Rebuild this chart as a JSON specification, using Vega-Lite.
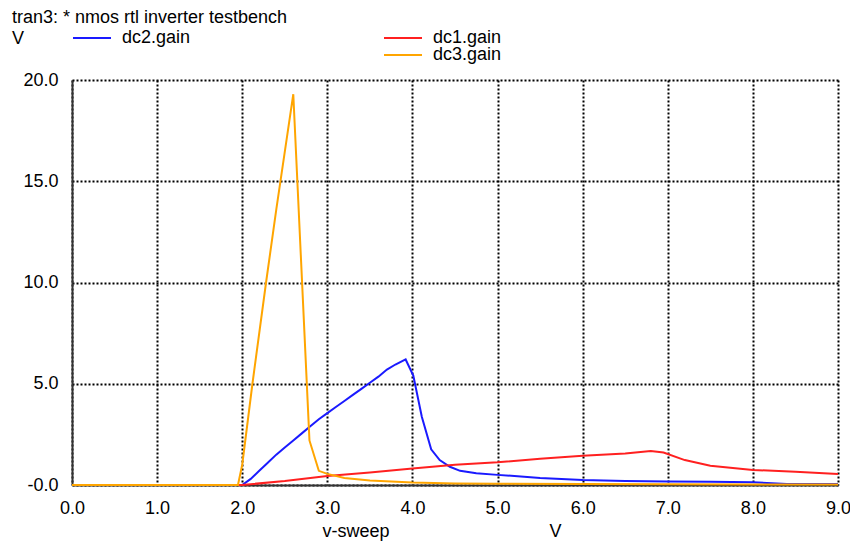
{
  "$schema": "https://vega.github.io/schema/vega-lite/v6.json",
  "width": 766,
  "height": 405,
  "autosize": {"type": "none"},
  "padding": {"left": 72, "top": 80, "right": 12, "bottom": 57},
  "background": "white",
  "title": {
    "text": "tran3: * nmos rtl inverter testbench",
    "subtitle": "V",
    "anchor": "start",
    "frame": "group",
    "dx": -60,
    "dy": 30,
    "offset": 0,
    "font": "Liberation Sans",
    "fontSize": 18,
    "fontWeight": "normal",
    "color": "black",
    "subtitleFont": "Liberation Sans",
    "subtitleFontSize": 18,
    "subtitleColor": "black",
    "subtitlePadding": 3
  },
  "config": {
    "view": {"stroke": null},
    "font": "Liberation Sans",
    "axis": {
      "grid": true,
      "gridColor": "black",
      "gridDash": [2, 2],
      "gridWidth": 2,
      "gridOpacity": 1,
      "ticks": false,
      "domain": true,
      "domainColor": "#333333",
      "domainWidth": 2,
      "labelFont": "Liberation Sans",
      "labelFontSize": 18,
      "labelColor": "black",
      "titleFont": "Liberation Sans",
      "titleFontSize": 18,
      "titleFontWeight": "normal",
      "titleColor": "black"
    },
    "legend": {
      "orient": "none",
      "title": null,
      "symbolType": "stroke",
      "symbolSize": 1444,
      "symbolStrokeWidth": 2,
      "labelFont": "Liberation Sans",
      "labelFontSize": 18,
      "labelColor": "black",
      "labelOffset": 10,
      "padding": 0
    }
  },
  "data": {
    "values": [
      {"x": 0, "y": 0, "s": "dc2.gain"},
      {"x": 2.0, "y": 0, "s": "dc2.gain"},
      {"x": 2.1, "y": 0.3, "s": "dc2.gain"},
      {"x": 2.2, "y": 0.7, "s": "dc2.gain"},
      {"x": 2.3, "y": 1.1, "s": "dc2.gain"},
      {"x": 2.4, "y": 1.5, "s": "dc2.gain"},
      {"x": 2.5, "y": 1.85, "s": "dc2.gain"},
      {"x": 2.6, "y": 2.2, "s": "dc2.gain"},
      {"x": 2.7, "y": 2.55, "s": "dc2.gain"},
      {"x": 2.8, "y": 2.9, "s": "dc2.gain"},
      {"x": 2.9, "y": 3.25, "s": "dc2.gain"},
      {"x": 3.0, "y": 3.55, "s": "dc2.gain"},
      {"x": 3.1, "y": 3.85, "s": "dc2.gain"},
      {"x": 3.2, "y": 4.15, "s": "dc2.gain"},
      {"x": 3.3, "y": 4.45, "s": "dc2.gain"},
      {"x": 3.4, "y": 4.75, "s": "dc2.gain"},
      {"x": 3.5, "y": 5.05, "s": "dc2.gain"},
      {"x": 3.6, "y": 5.35, "s": "dc2.gain"},
      {"x": 3.7, "y": 5.7, "s": "dc2.gain"},
      {"x": 3.8, "y": 5.95, "s": "dc2.gain"},
      {"x": 3.92, "y": 6.2, "s": "dc2.gain"},
      {"x": 4.01, "y": 5.4, "s": "dc2.gain"},
      {"x": 4.11, "y": 3.37, "s": "dc2.gain"},
      {"x": 4.22, "y": 1.76, "s": "dc2.gain"},
      {"x": 4.32, "y": 1.23, "s": "dc2.gain"},
      {"x": 4.44, "y": 0.9, "s": "dc2.gain"},
      {"x": 4.56, "y": 0.7, "s": "dc2.gain"},
      {"x": 4.75, "y": 0.58, "s": "dc2.gain"},
      {"x": 5.0, "y": 0.5, "s": "dc2.gain"},
      {"x": 5.5, "y": 0.35, "s": "dc2.gain"},
      {"x": 6.0, "y": 0.25, "s": "dc2.gain"},
      {"x": 6.5, "y": 0.2, "s": "dc2.gain"},
      {"x": 7.0, "y": 0.17, "s": "dc2.gain"},
      {"x": 7.5, "y": 0.16, "s": "dc2.gain"},
      {"x": 8.0, "y": 0.14, "s": "dc2.gain"},
      {"x": 8.4, "y": 0.05, "s": "dc2.gain"},
      {"x": 9.0, "y": 0.05, "s": "dc2.gain"},
      {"x": 0, "y": 0, "s": "dc1.gain"},
      {"x": 2.0, "y": 0, "s": "dc1.gain"},
      {"x": 2.5, "y": 0.2, "s": "dc1.gain"},
      {"x": 3.0, "y": 0.45, "s": "dc1.gain"},
      {"x": 3.5, "y": 0.62, "s": "dc1.gain"},
      {"x": 4.0, "y": 0.82, "s": "dc1.gain"},
      {"x": 4.5, "y": 1.0, "s": "dc1.gain"},
      {"x": 5.0, "y": 1.12, "s": "dc1.gain"},
      {"x": 5.5, "y": 1.3, "s": "dc1.gain"},
      {"x": 6.0, "y": 1.45, "s": "dc1.gain"},
      {"x": 6.5, "y": 1.56, "s": "dc1.gain"},
      {"x": 6.8, "y": 1.68, "s": "dc1.gain"},
      {"x": 6.95, "y": 1.6, "s": "dc1.gain"},
      {"x": 7.2, "y": 1.23, "s": "dc1.gain"},
      {"x": 7.5, "y": 0.95, "s": "dc1.gain"},
      {"x": 8.0, "y": 0.74, "s": "dc1.gain"},
      {"x": 8.5, "y": 0.66, "s": "dc1.gain"},
      {"x": 9.0, "y": 0.54, "s": "dc1.gain"},
      {"x": 0, "y": 0, "s": "dc3.gain"},
      {"x": 1.95, "y": 0, "s": "dc3.gain"},
      {"x": 2.0, "y": 1.0, "s": "dc3.gain"},
      {"x": 2.12, "y": 5.0, "s": "dc3.gain"},
      {"x": 2.28, "y": 10.0, "s": "dc3.gain"},
      {"x": 2.4, "y": 13.6, "s": "dc3.gain"},
      {"x": 2.6, "y": 19.3, "s": "dc3.gain"},
      {"x": 2.79, "y": 2.2, "s": "dc3.gain"},
      {"x": 2.9, "y": 0.7, "s": "dc3.gain"},
      {"x": 3.0, "y": 0.55, "s": "dc3.gain"},
      {"x": 3.2, "y": 0.35, "s": "dc3.gain"},
      {"x": 3.5, "y": 0.22, "s": "dc3.gain"},
      {"x": 4.0, "y": 0.12, "s": "dc3.gain"},
      {"x": 4.5, "y": 0.08, "s": "dc3.gain"},
      {"x": 5.0, "y": 0.06, "s": "dc3.gain"},
      {"x": 6.0, "y": 0.05, "s": "dc3.gain"},
      {"x": 7.0, "y": 0.04, "s": "dc3.gain"},
      {"x": 8.0, "y": 0.03, "s": "dc3.gain"},
      {"x": 9.0, "y": 0.03, "s": "dc3.gain"}
    ]
  },
  "encoding": {
    "x": {
      "field": "x",
      "type": "quantitative",
      "scale": {"domain": [0, 9], "nice": false, "zero": false},
      "axis": {
        "values": [0, 1, 2, 3, 4, 5, 6, 7, 8, 9],
        "format": ".1f",
        "labelPadding": 14,
        "labelFlush": false,
        "title": "v-sweep\u00a0\u00a0\u00a0\u00a0\u00a0\u00a0\u00a0\u00a0\u00a0\u00a0\u00a0\u00a0\u00a0\u00a0\u00a0\u00a0\u00a0\u00a0\u00a0\u00a0\u00a0\u00a0\u00a0\u00a0\u00a0\u00a0\u00a0\u00a0\u00a0\u00a0\u00a0\u00a0V",
        "titleAlign": "left",
        "titleAnchor": "start",
        "titleX": 250,
        "titlePadding": 5
      }
    },
    "y": {
      "field": "y",
      "type": "quantitative",
      "scale": {"domain": [0, 20], "nice": false},
      "axis": {
        "values": [0, 5, 10, 15, 20],
        "labelExpr": "datum.value == 0 ? '-0.0\u00a0' : format(datum.value, '.1f')",
        "labelPadding": 14,
        "title": null
      }
    }
  },
  "layer": [
    {
      "transform": [{"filter": "datum.s == 'dc2.gain'"}],
      "mark": {"type": "line", "strokeWidth": 2},
      "encoding": {
        "color": {
          "field": "s",
          "type": "nominal",
          "scale": {"domain": ["dc2.gain"], "range": ["#1a1aff"]},
          "legend": {"legendX": 0, "legendY": -62}
        }
      }
    },
    {
      "transform": [{"filter": "datum.s == 'dc1.gain'"}],
      "mark": {"type": "line", "strokeWidth": 2},
      "encoding": {
        "color": {
          "field": "s",
          "type": "nominal",
          "scale": {"domain": ["dc1.gain"], "range": ["#ff2020"]},
          "legend": {"legendX": 311, "legendY": -62}
        }
      }
    },
    {
      "transform": [{"filter": "datum.s == 'dc3.gain'"}],
      "mark": {"type": "line", "strokeWidth": 2},
      "encoding": {
        "color": {
          "field": "s",
          "type": "nominal",
          "scale": {"domain": ["dc3.gain"], "range": ["#ffa500"]},
          "legend": {"legendX": 311, "legendY": -45}
        }
      }
    }
  ],
  "resolve": {"scale": {"color": "independent"}}
}
